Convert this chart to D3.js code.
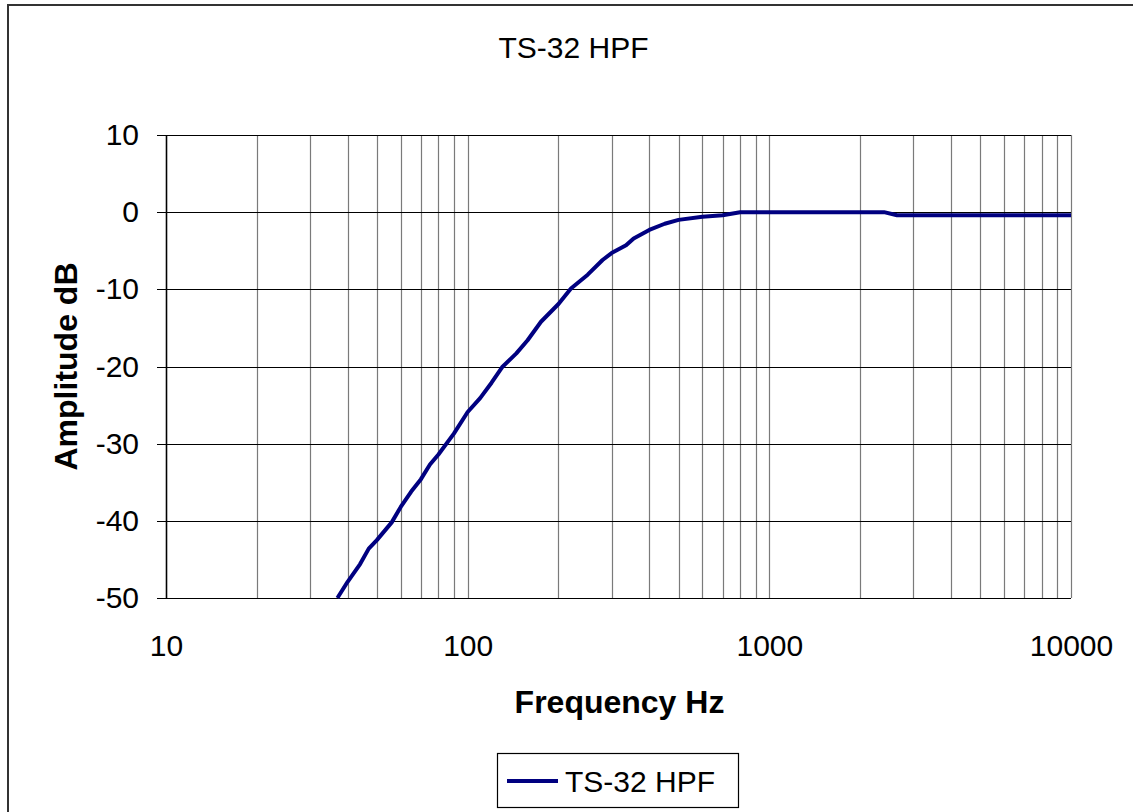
<!DOCTYPE html>
<html>
<head>
<meta charset="utf-8">
<script src="https://cdn.jsdelivr.net/npm/d3@7"></script>
<style>
  html, body { margin: 0; padding: 0; background: #fff; overflow: hidden; }
  svg { display: block; font-family: 'Liberation Sans', Arial, sans-serif; }
</style>
</head>
<body>
<div id="chart"></div>
<script>
// filter response
const freqHz = [37, 40, 44, 47, 50, 56, 60, 65, 70, 75, 80, 90, 100, 110, 120, 130, 145, 158, 175, 200,
  220, 250, 280, 300, 335, 355, 400, 450, 500, 600, 700, 800, 2400, 2650, 10000];
const amplitudeDb = [-50, -47.9, -45.6, -43.6, -42.5, -40.2, -38.2, -36.2, -34.6, -32.7, -31.4, -28.7, -25.9,
  -24.1, -22.1, -20.1, -18.3, -16.6, -14.2, -11.9, -9.9, -8.1, -6.2, -5.3, -4.3, -3.4, -2.3, -1.5, -1.0,
  -0.6, -0.4, 0, 0, -0.4, -0.4];
const xTicks = [10, 100, 1000, 10000];
const yTicks = [-50, -40, -30, -20, -10, 0, 10];
const seriesName = 'TS-32 HPF';

const width = 1133;
const height = 812;
const plot = { left: 166, top: 135, right: 1071, bottom: 598 };

const svg = d3.select('#chart')
  .append('svg')
  .attr('width', width)
  .attr('height', height);

// outer chart frame (right/bottom run off the picture)
svg.append('rect')
  .attr('x', 8)
  .attr('y', 5)
  .attr('width', 1200)
  .attr('height', 900)
  .attr('fill', 'none')
  .attr('stroke', '#333')
  .attr('stroke-width', 2);

const x = d3.scaleLog().domain([10, 10000]).range([plot.left, plot.right]);
const y = d3.scaleLinear().domain([-50, 10]).range([plot.bottom, plot.top]);

// vertical log grid
svg.append('g')
  .selectAll('line')
  .data(x.ticks())
  .enter()
  .append('line')
  .attr('x1', (d) => Math.round(x(d)) + 0.5)
  .attr('x2', (d) => Math.round(x(d)) + 0.5)
  .attr('y1', plot.top)
  .attr('y2', plot.bottom)
  .attr('stroke', '#7a7a7a')
  .attr('stroke-width', 1.2);

// horizontal grid + ticks
svg.append('g')
  .selectAll('line')
  .data(yTicks)
  .enter()
  .append('line')
  .attr('x1', plot.left - 9)
  .attr('x2', plot.right)
  .attr('y1', (d) => Math.round(y(d)) + 0.5)
  .attr('y2', (d) => Math.round(y(d)) + 0.5)
  .attr('stroke', '#000')
  .attr('stroke-width', 1.2);

// y axis line
svg.append('line')
  .attr('x1', plot.left + 0.5)
  .attr('x2', plot.left + 0.5)
  .attr('y1', plot.top)
  .attr('y2', plot.bottom)
  .attr('stroke', '#000')
  .attr('stroke-width', 1.5);

const yAxis = svg.append('g')
  .attr('transform', `translate(${plot.left},0)`)
  .call(d3.axisLeft(y).tickValues(yTicks).tickSize(9).tickPadding(18).tickFormat((d) => String(d)));
yAxis.select('.domain').remove();
yAxis.selectAll('line').remove();
yAxis.selectAll('text')
  .attr('fill', '#000')
  .attr('font-size', 30)
  .attr('font-family', "'Liberation Sans', Arial, sans-serif");

const xAxis = svg.append('g')
  .attr('transform', `translate(0,${plot.bottom})`)
  .call(d3.axisBottom(x).tickValues(xTicks).tickSize(0).tickPadding(37).tickFormat((d) => String(d)));
xAxis.select('.domain').remove();
xAxis.selectAll('text')
  .attr('fill', '#000')
  .attr('font-size', 30)
  .attr('font-family', "'Liberation Sans', Arial, sans-serif");

// response curve
const points = freqHz.map((f, i) => [f, amplitudeDb[i]]);
const line = d3.line()
  .x((d) => x(d[0]))
  .y((d) => y(d[1]));

svg.append('path')
  .datum(points)
  .attr('d', line)
  .attr('fill', 'none')
  .attr('stroke', '#000080')
  .attr('stroke-width', 4)
  .attr('stroke-linejoin', 'round');

// titles
svg.append('text')
  .attr('x', 573.5)
  .attr('y', 58)
  .attr('text-anchor', 'middle')
  .attr('font-size', 30)
  .text(seriesName);

svg.append('text')
  .attr('x', 619.5)
  .attr('y', 713)
  .attr('text-anchor', 'middle')
  .attr('font-size', 32)
  .attr('font-weight', 'bold')
  .text('Frequency Hz');

svg.append('text')
  .attr('transform', 'translate(77,366.5) rotate(-90)')
  .attr('text-anchor', 'middle')
  .attr('font-size', 32)
  .attr('font-weight', 'bold')
  .text('Amplitude dB');

// legend
const legend = svg.append('g');
legend.append('rect')
  .attr('x', 497.5)
  .attr('y', 753.5)
  .attr('width', 241)
  .attr('height', 54)
  .attr('fill', '#fff')
  .attr('stroke', '#000')
  .attr('stroke-width', 1.2);
legend.append('line')
  .attr('x1', 507)
  .attr('x2', 558)
  .attr('y1', 781)
  .attr('y2', 781)
  .attr('stroke', '#000080')
  .attr('stroke-width', 4);
legend.append('text')
  .attr('x', 565)
  .attr('y', 792)
  .attr('font-size', 30)
  .text(seriesName);
</script>
</body>
</html>
